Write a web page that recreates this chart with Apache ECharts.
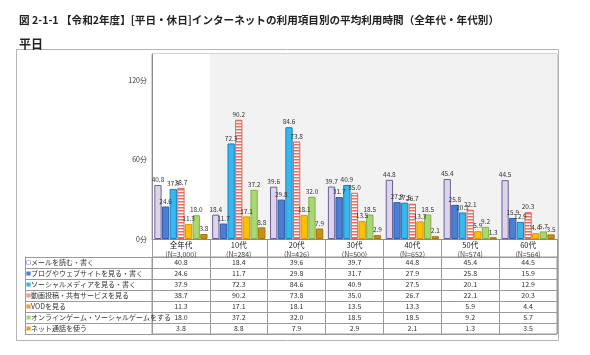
<!DOCTYPE html>
<html>
<head>
<meta charset="utf-8">
<script src="https://cdn.jsdelivr.net/npm/echarts@6/dist/echarts.min.js"></script>
<style>
html, body { margin: 0; padding: 0; background: #fff; }
#chart { width: 590px; height: 355px; }
</style>
</head>
<body>
<div id="chart"></div>
<script>
const categories = ['全年代', '10代', '20代', '30代', '40代', '50代', '60代'];
const sampleSizes = ['N=3,000', 'N=284', 'N=426', 'N=500', 'N=652', 'N=574', 'N=564'];
const itemNames = [
  'メールを読む・書く',
  'ブログやウェブサイトを見る・書く',
  'ソーシャルメディアを見る・書く',
  '動画投稿・共有サービスを見る',
  'VODを見る',
  'オンラインゲーム・ソーシャルゲームをする',
  'ネット通話を使う',
];
const mail = [40.8, 18.4, 39.6, 39.7, 44.8, 45.4, 44.5];
const blog = [24.6, 11.7, 29.8, 31.7, 27.9, 25.8, 15.9];
const social = [37.9, 72.3, 84.6, 40.9, 27.5, 20.1, 12.9];
const video = [38.7, 90.2, 73.8, 35.0, 26.7, 22.1, 20.3];
const vod = [11.3, 17.1, 18.1, 13.5, 13.3, 5.9, 4.4];
const game = [18.0, 37.2, 32.0, 18.5, 18.5, 9.2, 5.7];
const netCall = [3.8, 8.8, 7.9, 2.9, 2.1, 1.3, 3.5];
const yMax = 140;
const yInterval = 60;

const seriesValues = [mail, blog, social, video, vod, game, netCall];

// 縞模様（動画投稿）
const stripe = document.createElement('canvas');
stripe.width = 4;
stripe.height = 3;
const sctx = stripe.getContext('2d');
sctx.fillStyle = '#ffffff';
sctx.fillRect(0, 0, 4, 3);
sctx.fillStyle = '#ec6f62';
sctx.fillRect(0, 0, 4, 1.5);

const fills = ['#dcd5ea', '#4a7fd3', '#35b9ec', { image: stripe, repeat: 'repeat' }, '#ffc000', '#a9d870', '#c9920c'];
const borders = ['#6c5e98', '#2f5da8', '#1c7fc4', '#e0665a', '#e39100', '#7fae4c', '#a57406'];
const markers = ['#ffffff', '#4a7fd3', '#35b9ec', '#f09a90', '#f39a3c', '#a9d870', '#d9a62a'];

const FONT = 'Noto Sans CJK JP';
const myChart = echarts.init(document.getElementById('chart'));

const barSeries = seriesValues.map((vals, i) => ({
  name: itemNames[i],
  type: 'bar',
  xAxisIndex: 0,
  yAxisIndex: 0,
  barCategoryGap: '8%',
  barGap: '5%',
  itemStyle: {
    color: fills[i],
    borderColor: borders[i],
    borderWidth: 1,
  },
  label: {
    show: true,
    position: 'top',
    distance: 2,
    fontSize: 6.5,
    color: '#333',
    formatter: (p) => p.value.toFixed(1),
  },
  data: vals,
}));

// 表の数値
const cellData = [];
seriesValues.forEach((vals, row) => {
  vals.forEach((v, col) => {
    cellData.push([col, row, v]);
  });
});

const richMarkers = {};
markers.forEach((c, i) => {
  richMarkers['m' + i] = {
    width: 3,
    height: 3,
    backgroundColor: c,
    borderColor: i === 0 ? '#8a80a8' : c,
    borderWidth: 0.6,
  };
});
richMarkers.t = { fontSize: 7, color: '#333', padding: [0, 0, 0, 1] };

const option = {
  animation: false,
  textStyle: { fontFamily: FONT },
  title: [
    {
      text: '図 2-1-1 【令和2年度】[平日・休日]インターネットの利用項目別の平均利用時間（全年代・年代別）',
      left: 14,
      top: 10,
      textStyle: { fontSize: 10.6, fontWeight: 'bold', color: '#222', fontFamily: FONT },
    },
    {
      text: '平日',
      left: 14,
      top: 33,
      textStyle: { fontSize: 12, fontWeight: 'bold', color: '#222', fontFamily: FONT },
    },
  ],
  graphic: [
    {
      type: 'rect',
      z: -10,
      shape: { x: 16.5, y: 49.5, width: 542, height: 291 },
      style: { fill: 'none', stroke: '#b4b4b4', lineWidth: 1 },
    },
  ],
  grid: [
    { left: 152, right: 33, top: 54, height: 185, show: true, borderColor: '#a8a8a8', borderWidth: 1 },
    { left: 152, right: 33, top: 257, height: 77, show: true, borderColor: '#9a9a9a', borderWidth: 1 },
  ],
  xAxis: [
    {
      type: 'category',
      gridIndex: 0,
      data: categories,
      axisLine: { lineStyle: { color: '#8a8a8a' } },
      axisTick: { show: true, length: 18, interval: 0, lineStyle: { color: '#9a9a9a' } },
      splitArea: {
        show: true,
        interval: 0,
        areaStyle: { color: ['#ffffff', '#f2f2f2', '#f2f2f2', '#f2f2f2', '#f2f2f2', '#f2f2f2', '#f2f2f2'] },
      },
      axisLabel: {
        interval: 0,
        margin: 2,
        formatter: (v, i) => `{c|${v}}\n{n|(${sampleSizes[i]})}`,
        rich: {
          c: { fontSize: 7.5, color: '#222', lineHeight: 9 },
          n: { fontSize: 7, color: '#444', lineHeight: 9 },
        },
      },
    },
    {
      type: 'category',
      gridIndex: 1,
      data: categories,
      axisLine: { show: false },
      axisTick: { show: false },
      axisLabel: { show: false },
      splitLine: { show: true, interval: 0, lineStyle: { color: '#9a9a9a' } },
    },
  ],
  yAxis: [
    {
      type: 'value',
      gridIndex: 0,
      min: 0,
      max: yMax,
      interval: yInterval,
      axisLine: { show: true, lineStyle: { color: '#8a8a8a' } },
      axisTick: { show: false },
      axisLabel: { fontSize: 7, color: '#333', margin: 5, showMaxLabel: false, formatter: (v) => v + '分' },
      splitLine: { lineStyle: { color: '#a6a6a6' } },
      minorTick: { show: false, splitNumber: 3 },
      minorSplitLine: { show: true, lineStyle: { color: '#dedede' } },
    },
    {
      type: 'category',
      gridIndex: 1,
      inverse: true,
      data: itemNames,
      axisLine: { show: true, lineStyle: { color: '#9a9a9a' } },
      axisTick: { show: true, length: 127, interval: 0, lineStyle: { color: '#9a9a9a' } },
      splitLine: { show: true, interval: 0, lineStyle: { color: '#9a9a9a' } },
      axisLabel: {
        interval: 0,
        align: 'left',
        margin: 125,
        formatter: (v, i) => `{m${i}|}{t|${v}}`,
        rich: richMarkers,
      },
    },
    {
      type: 'category',
      gridIndex: 1,
      inverse: true,
      position: 'left',
      offset: 127,
      data: itemNames,
      axisLine: { show: true, lineStyle: { color: '#9a9a9a' } },
      axisTick: { show: false },
      axisLabel: { show: false },
    },
  ],
  series: barSeries.concat([
    {
      type: 'custom',
      xAxisIndex: 1,
      yAxisIndex: 1,
      silent: true,
      data: cellData,
      renderItem: (params, api) => {
        const p = api.coord([api.value(0), api.value(1)]);
        return {
          type: 'text',
          style: {
            text: api.value(2).toFixed(1),
            x: p[0],
            y: p[1],
            align: 'center',
            verticalAlign: 'middle',
            fontSize: 7,
            fontFamily: FONT,
            fill: '#333',
          },
        };
      },
    },
  ]),
};

myChart.setOption(option);
</script>
</body>
</html>
